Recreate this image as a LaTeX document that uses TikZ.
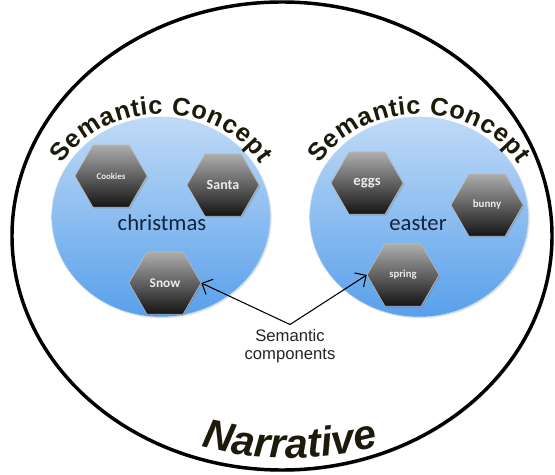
\documentclass[tikz,border=0pt]{standalone}
\usepackage{fontspec}
\setmainfont{Carlito}
\newfontfamily\plainfont{Liberation Sans}
\newfontfamily\headfont{Liberation Sans Bold}
\newfontfamily\narrfont{Liberation Sans Bold Italic}
\usepackage{tikz}
\usetikzlibrary{
  shapes.geometric,
  arrows.meta,
  decorations.text,
  shadows
}
\definecolor{topictop}{RGB}{192,218,246}
\definecolor{topicbot}{RGB}{88,160,235}
\definecolor{topicnavy}{RGB}{20,35,62}
\definecolor{headink}{RGB}{28,26,10}

\begin{document}
\begin{tikzpicture}[x=0.75pt, y=0.75pt,
  ring/.style={ellipse, draw=black, fill=white, line width=2.6pt, minimum width=405pt, minimum height=351pt, drop shadow={opacity=0.25, shadow xshift=1pt, shadow yshift=-1.5pt}},
  topic/.style={ellipse, draw=white!60!topicbot, thin, top color=topictop, bottom color=topicbot, minimum width=164pt, minimum height=150pt, drop shadow={opacity=0.2, shadow xshift=1pt, shadow yshift=-1pt}},
  topicname/.style={font=\fontsize{17}{20}\selectfont, text=topicnavy},
  comp/.style={regular polygon, regular polygon sides=6, minimum size=54pt, inner sep=0pt, draw=black!25, thin, top color=black!32, bottom color=black!92, text=white!92!black, font=\bfseries\fontsize{#1}{#1}\selectfont, drop shadow={opacity=0.35, shadow xshift=1pt, shadow yshift=-1pt}},
  link/.style={thick, -{Straight Barb[length=2.2mm]}},
  arctext/.style={decorate, decoration={text along path, text align=center, text color=headink, text={#1}}},
  fittext/.style={decorate, decoration={text effects along path, text={#1},
    text effects/.cd, text along path, fit text to path,
    characters={text=headink, font=\headfont\fontsize{19}{21}\selectfont}}}
]
  \useasboundingbox (0,0) rectangle (555,474);

  \node[ring] (story) at (282,238) {};

  \node[topic] (xmas) at (161,257) {};
  \node[topic] (easter) at (419,257) {};
  \node[topicname] (xmasname) at (162,251) {christmas};
  \node[topicname] (eastername) at (418,251) {easter};

  \node[comp=6.7] (cookies) at (111,298) {Cookies};
  \node[comp=10.5] (santa) at (223,289) {Santa};
  \node[comp=10] (snow) at (165,191) {Snow};
  \node[comp=11] (eggs) at (367,291) {eggs};
  \node[comp=8.2] (bunny) at (487,269) {bunny};
  \node[comp=8] (spring) at (403,199) {spring};

  \foreach \c in {xmas,easter}
    \path[fittext={Semantic Concept}]
      (\c.center) ++(149:116 and 103) arc[start angle=149, end angle=31, x radius=116, y radius=103];

  \node[align=center, font=\plainfont\fontsize{12.5}{13.5}\selectfont, text=black!85] (semcomp) at (290,128) {Semantic\\components};
  \draw[link] (semcomp.north) -- (snow.east);
  \draw[link] (semcomp.north) -- (spring.west);

  \coordinate (bend) at (290,366);
  \path[arctext={|\narrfont\fontsize{31}{34}\selectfont|Narrative}]
    (bend) ++(250:350) arc[start angle=250, end angle=290, radius=350];
\end{tikzpicture}
\end{document}
